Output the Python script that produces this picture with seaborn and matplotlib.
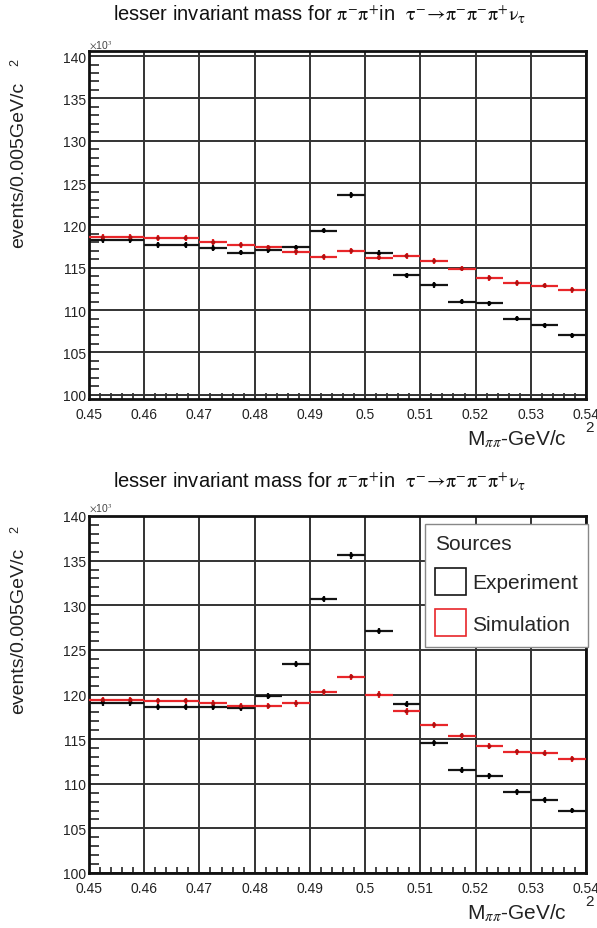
import numpy as np
import pandas as pd
import matplotlib
matplotlib.use("Agg")
import matplotlib.pyplot as plt
from matplotlib.patches import Patch
from matplotlib.ticker import MultipleLocator, FixedLocator
import seaborn as sns

# Bin centres of M(pi- pi+) in GeV/c^2, bin width 0.005
bin_centers = [0.4525, 0.4575, 0.4625, 0.4675, 0.4725, 0.4775, 0.4825, 0.4875, 0.4925,
               0.4975, 0.5025, 0.5075, 0.5125, 0.5175, 0.5225, 0.5275, 0.5325, 0.5375]
bin_half_width = 0.0025

# Events per bin, in units of 10^3 (upper panel)
top_experiment = [118.3, 118.3, 117.7, 117.7, 117.3, 116.8, 117.1, 117.4, 119.4,
                  123.6, 116.7, 114.1, 113.0, 111.0, 110.8, 109.0, 108.2, 107.0]
top_simulation = [118.6, 118.6, 118.5, 118.5, 118.0, 117.7, 117.4, 116.9, 116.3,
                  117.0, 116.2, 116.4, 115.8, 114.9, 113.8, 113.2, 112.9, 112.4]

# Events per bin, in units of 10^3 (lower panel)
bottom_experiment = [119.1, 119.1, 118.6, 118.6, 118.6, 118.5, 119.8, 123.4, 130.7,
                     135.6, 127.1, 118.9, 114.6, 111.5, 110.9, 109.1, 108.2, 107.0]
bottom_simulation = [119.4, 119.4, 119.3, 119.3, 119.0, 118.7, 118.7, 119.0, 120.3,
                     122.0, 120.0, 118.1, 116.6, 115.4, 114.2, 113.6, 113.4, 112.8]

x_tick_values = [0.45, 0.46, 0.47, 0.48, 0.49, 0.50, 0.51, 0.52, 0.53, 0.54]
x_tick_labels = ["0.45", "0.46", "0.47", "0.48", "0.49", "0.5", "0.51", "0.52", "0.53", "0.54"]
y_tick_values = [100, 105, 110, 115, 120, 125, 130, 135, 140]

series_names = ["Experiment", "Simulation"]
series_colors = {"Experiment": "#151515", "Simulation": "#e8262a"}
dot_colors = {"Experiment": "#000000", "Simulation": "#b01010"}

sns.set_theme(style="white")
plt.rcParams["font.family"] = ["Liberation Sans", "DejaVu Sans"]
plt.rcParams["mathtext.fontset"] = "stix"

W, H = 597, 929
fig = plt.figure(figsize=(W / 100, H / 100), dpi=100)
fig.patch.set_facecolor("white")


def px_box(left, top, right, bottom):
    return [left / W, 1 - bottom / H, (right - left) / W, (bottom - top) / H]


title_text = (r"lesser invariant mass for $\mathrm{\pi^{-}\pi^{+}}$in  "
              r"$\mathrm{\tau^{-}\!\rightarrow\!\pi^{-}\pi^{-}\pi^{+}\nu_{\tau}}$")


def draw_panel(ax, exp_vals, sim_vals, ylim):
    frames = []
    for name, vals in zip(series_names, [exp_vals, sim_vals]):
        frames.append(pd.DataFrame({"mass": bin_centers, "events": vals, "source": name}))
    df = pd.concat(frames, ignore_index=True)

    for name in series_names:
        sub = df[df["source"] == name]
        err = np.sqrt(sub["events"].to_numpy() * 1000.0) / 1000.0
        ax.errorbar(sub["mass"], sub["events"], xerr=bin_half_width, yerr=err,
                    fmt="none", ecolor=series_colors[name], elinewidth=1.6,
                    capsize=0, zorder=3)
    sns.scatterplot(data=df, x="mass", y="events", hue="source",
                    palette=dot_colors, s=9, marker="o", linewidth=0,
                    legend=False, ax=ax, zorder=4)

    ax.set_xlim(0.45, 0.54)
    ax.set_ylim(*ylim)
    ax.xaxis.set_major_locator(FixedLocator(x_tick_values))
    ax.set_xticklabels(x_tick_labels)
    ax.xaxis.set_minor_locator(MultipleLocator(0.002))
    ax.yaxis.set_major_locator(FixedLocator(y_tick_values))
    ax.set_yticklabels([str(v) for v in y_tick_values])
    ax.yaxis.set_minor_locator(MultipleLocator(1))
    ax.grid(True, which="major", color="#333333", linewidth=1.4, zorder=1)
    ax.set_axisbelow(True)
    ax.tick_params(axis="both", which="both", direction="in", colors="#111111",
                   labelsize=10, labelcolor="#222222")
    ax.tick_params(axis="y", which="major", length=13, width=1.3, pad=2)
    ax.tick_params(axis="y", which="minor", length=7, width=1.1, left=True)
    ax.tick_params(axis="x", which="major", length=0, pad=6)
    ax.tick_params(axis="x", which="minor", length=4, width=1.1, bottom=True)
    for s in ax.spines.values():
        s.set_color("#111111")
        s.set_linewidth(2.0)
    ax.set_xlabel("")
    ax.set_ylabel("")


# Upper panel
ax1 = fig.add_axes(px_box(89, 52, 586, 400))
draw_panel(ax1, top_experiment, top_simulation, (99.5, 140.6))

# Lower panel
ax2 = fig.add_axes(px_box(89, 517, 586, 874))
draw_panel(ax2, bottom_experiment, bottom_simulation, (100, 140))

# Titles
fig.text(320 / W, 1 - 21 / H, title_text, ha="center", va="baseline",
         fontsize=14.5, color="#111111")
fig.text(320 / W, 1 - 488 / H, title_text, ha="center", va="baseline",
         fontsize=14.5, color="#111111")

# Exponent markers
for top_px in (50, 513):
    fig.text(89 / W, 1 - top_px / H, r"$\times$10$^{3}$", ha="left", va="baseline",
             fontsize=7.5, color="#444444")

# Y labels
for end_px, sup_px in ((82, 63), (548, 530)):
    fig.text(19 / W, 1 - end_px / H, "events/0.005GeV/c", rotation=90,
             ha="center", va="top", fontsize=14, color="#222222")
    fig.text(15 / W, 1 - sup_px / H, "2", rotation=90, ha="center", va="center",
             fontsize=9, color="#222222")

# X labels
for base_px, sup_px in ((445, 428), (919, 902)):
    fig.text(567 / W, 1 - base_px / H, r"M$_{\pi\pi}$-GeV/c", ha="right",
             va="baseline", fontsize=15, color="#222222")
    fig.text(590 / W, 1 - sup_px / H, "2", ha="center", va="center",
             fontsize=11, color="#222222")

# Legend on the lower panel
handles = [Patch(facecolor="none", edgecolor=series_colors[n], linewidth=1.2, label=n)
           for n in series_names]
leg = ax2.legend(handles=handles, title="Sources", loc="upper left",
                 bbox_to_anchor=(425 / W, 1 - 525 / H), bbox_transform=fig.transFigure,
                 fontsize=15, title_fontsize=15, handlelength=1.45, handleheight=1.6,
                 handletextpad=0.3, labelspacing=0.7, borderpad=0.5,
                 frameon=True, fancybox=False, framealpha=1.0, alignment="left",
                 borderaxespad=0)
leg.get_frame().set_edgecolor("#888888")
leg.get_frame().set_linewidth(1.0)
leg.set_zorder(10)

fig.savefig("out.png", dpi=100, facecolor="white")
